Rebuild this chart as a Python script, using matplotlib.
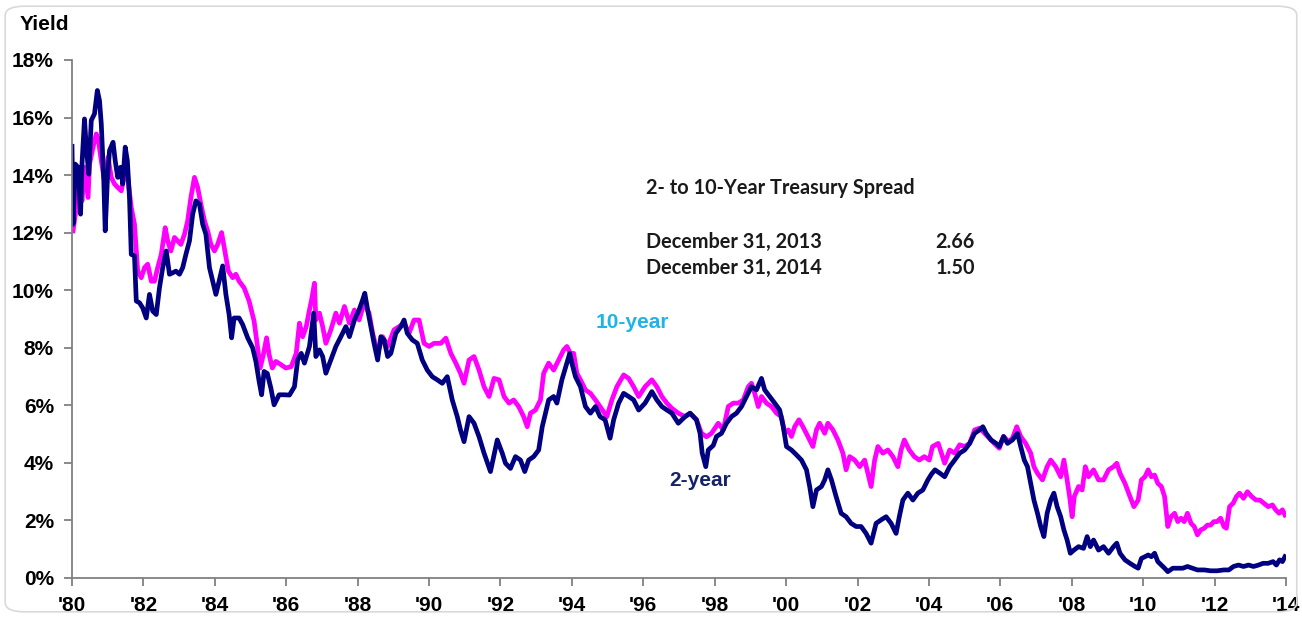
import matplotlib
matplotlib.use('Agg')
import matplotlib.pyplot as plt
from matplotlib.patches import FancyBboxPatch

# 2-year treasury yield (decimal year on the chart axis, percent)
two_year_x = [
    1980.00, 1980.03, 1980.09, 1980.17, 1980.24, 1980.28, 1980.35, 1980.40, 1980.47, 1980.54, 1980.63,
    1980.71, 1980.77, 1980.82, 1980.89, 1980.93, 1980.99, 1981.05, 1981.15, 1981.21, 1981.28,
    1981.36, 1981.42, 1981.49, 1981.55, 1981.61, 1981.66, 1981.75, 1981.80, 1981.89, 1981.98,
    1982.08, 1982.17, 1982.26, 1982.36, 1982.45, 1982.54, 1982.64, 1982.73, 1982.82, 1982.91,
    1983.01, 1983.10, 1983.19, 1983.29, 1983.38, 1983.47, 1983.57, 1983.66, 1983.75, 1983.85,
    1983.94, 1984.03, 1984.12, 1984.22, 1984.31, 1984.40, 1984.47, 1984.54, 1984.68, 1984.78,
    1984.92, 1985.06, 1985.15, 1985.24, 1985.31, 1985.38, 1985.47, 1985.57, 1985.66, 1985.80,
    1985.94, 1986.09, 1986.23, 1986.32, 1986.42, 1986.51, 1986.65, 1986.77, 1986.83, 1986.93,
    1987.02, 1987.11, 1987.25, 1987.39, 1987.53, 1987.67, 1987.77, 1987.91, 1988.04, 1988.14,
    1988.20, 1988.28, 1988.37, 1988.46, 1988.56, 1988.65, 1988.74, 1988.84, 1988.93, 1989.07,
    1989.21, 1989.30, 1989.39, 1989.53, 1989.67, 1989.81, 1989.95, 1990.09, 1990.23, 1990.37,
    1990.51, 1990.65, 1990.79, 1990.88, 1990.98, 1991.12, 1991.26, 1991.40, 1991.54, 1991.72,
    1991.91, 1992.05, 1992.14, 1992.28, 1992.42, 1992.56, 1992.68, 1992.79, 1992.93, 1993.07,
    1993.17, 1993.26, 1993.35, 1993.49, 1993.58, 1993.72, 1993.86, 1993.94, 1994.00, 1994.10,
    1994.24, 1994.38, 1994.52, 1994.66, 1994.79, 1994.93, 1995.07, 1995.17, 1995.31, 1995.45,
    1995.59, 1995.73, 1995.87, 1996.05, 1996.24, 1996.38, 1996.52, 1996.66, 1996.80, 1996.98,
    1997.17, 1997.31, 1997.49, 1997.59, 1997.65, 1997.75, 1997.82, 1997.96, 1998.05, 1998.19,
    1998.33, 1998.47, 1998.61, 1998.75, 1998.89, 1999.03, 1999.17, 1999.31, 1999.40, 1999.54,
    1999.68, 1999.82, 1999.92, 2000.01, 2000.15, 2000.29, 2000.43, 2000.57, 2000.66, 2000.75,
    2000.85, 2000.99, 2001.08, 2001.17, 2001.27, 2001.40, 2001.54, 2001.68, 2001.82, 2001.96,
    2002.10, 2002.24, 2002.38, 2002.52, 2002.66, 2002.80, 2002.94, 2003.08, 2003.17, 2003.27,
    2003.41, 2003.55, 2003.69, 2003.83, 2003.97, 2004.07, 2004.17, 2004.31, 2004.44, 2004.58,
    2004.72, 2004.86, 2005.00, 2005.14, 2005.28, 2005.42, 2005.51, 2005.60, 2005.74, 2005.88,
    2005.97, 2006.09, 2006.20, 2006.34, 2006.48, 2006.57, 2006.67, 2006.76, 2006.85, 2006.94,
    2007.04, 2007.13, 2007.22, 2007.31, 2007.41, 2007.50, 2007.59, 2007.69, 2007.78, 2007.87,
    2007.96, 2008.06, 2008.19, 2008.33, 2008.43, 2008.52, 2008.61, 2008.75, 2008.89, 2009.03,
    2009.17, 2009.26, 2009.35, 2009.49, 2009.63, 2009.77, 2009.86, 2009.95, 2010.05, 2010.14,
    2010.23, 2010.32, 2010.41, 2010.51, 2010.60, 2010.69, 2010.83, 2010.97, 2011.11, 2011.24,
    2011.38, 2011.52, 2011.71, 2011.89, 2012.07, 2012.26, 2012.40, 2012.53, 2012.67, 2012.81,
    2012.95, 2013.09, 2013.23, 2013.36, 2013.50, 2013.64, 2013.73, 2013.82, 2013.90, 2013.97,
]
two_year_y = [
    15.00, 12.29, 14.38, 14.27, 12.64, 14.38, 15.95, 14.97, 14.03, 15.90, 16.13,
    16.94, 16.59, 15.78, 13.80, 12.06, 13.80, 14.85, 15.14, 14.50, 13.92,
    14.27, 13.69, 14.97, 14.50, 13.22, 11.24, 11.19, 9.62, 9.56, 9.38,
    9.03, 9.85, 9.27, 9.15, 10.08, 10.78, 11.36, 10.55, 10.60, 10.66,
    10.55, 10.78, 11.24, 11.71, 12.64, 13.10, 12.99, 12.29, 11.94, 10.78,
    10.31, 9.85, 10.31, 10.84, 9.85, 9.15, 8.34, 9.03, 9.03, 8.80,
    8.34, 7.99, 7.52, 6.83, 6.36, 7.17, 7.10, 6.59, 6.01, 6.36,
    6.36, 6.35, 6.64, 7.57, 7.80, 7.46, 8.04, 9.20, 7.69, 7.92,
    7.69, 7.11, 7.57, 8.04, 8.38, 8.73, 8.38, 8.96, 9.31, 9.66,
    9.89, 9.31, 8.73, 8.15, 7.57, 8.38, 8.27, 7.69, 7.80, 8.50,
    8.73, 8.96, 8.50, 8.27, 8.15, 7.57, 7.22, 6.99, 6.88, 6.76,
    6.99, 6.18, 5.60, 5.14, 4.73, 5.60, 5.37, 4.90, 4.33, 3.69,
    4.79, 4.33, 3.98, 3.80, 4.21, 4.09, 3.69, 4.09, 4.21, 4.44,
    5.25, 5.72, 6.18, 6.30, 6.07, 6.88, 7.46, 7.80, 7.46, 6.99,
    6.64, 5.95, 5.72, 5.95, 5.60, 5.49, 4.85, 5.49, 6.07, 6.41,
    6.30, 6.18, 5.83, 6.07, 6.47, 6.18, 5.95, 5.83, 5.72, 5.37,
    5.60, 5.72, 5.49, 5.02, 4.33, 3.86, 4.44, 4.60, 4.91, 5.02,
    5.37, 5.60, 5.72, 5.95, 6.30, 6.64, 6.53, 6.93, 6.53, 6.30,
    6.07, 5.83, 5.25, 4.56, 4.44, 4.27, 4.09, 3.75, 3.17, 2.47,
    3.05, 3.17, 3.40, 3.75, 3.40, 2.82, 2.24, 2.12, 1.89, 1.78,
    1.78, 1.54, 1.20, 1.89, 2.01, 2.12, 1.89, 1.54, 2.12, 2.70,
    2.94, 2.70, 2.94, 3.05, 3.40, 3.60, 3.75, 3.63, 3.51, 3.86,
    4.09, 4.33, 4.44, 4.67, 5.02, 5.14, 5.25, 5.02, 4.79, 4.67,
    4.56, 4.91, 4.67, 4.79, 5.02, 4.56, 4.09, 3.86, 3.28, 2.70,
    2.24, 1.78, 1.43, 2.24, 2.70, 2.94, 2.47, 2.12, 1.66, 1.31,
    0.85, 0.96, 1.08, 1.02, 1.43, 1.08, 1.31, 0.96, 1.08, 0.85,
    1.08, 1.20, 0.85, 0.62, 0.50, 0.39, 0.33, 0.67, 0.73, 0.79,
    0.73, 0.85, 0.56, 0.44, 0.33, 0.21, 0.33, 0.33, 0.33, 0.39,
    0.33, 0.27, 0.27, 0.24, 0.24, 0.27, 0.27, 0.39, 0.44, 0.39,
    0.44, 0.39, 0.44, 0.50, 0.50, 0.56, 0.44, 0.62, 0.56, 0.73,
]

# 10-year treasury yield
ten_year_x = [
    1980.03, 1980.12, 1980.21, 1980.28, 1980.35, 1980.45, 1980.49, 1980.59, 1980.68, 1980.74,
    1980.82, 1980.91, 1981.01, 1981.10, 1981.19, 1981.28, 1981.38, 1981.47, 1981.56, 1981.66,
    1981.75, 1981.84, 1981.94, 1982.03, 1982.12, 1982.22, 1982.31, 1982.40, 1982.50, 1982.61,
    1982.68, 1982.77, 1982.87, 1982.96, 1983.05, 1983.15, 1983.24, 1983.33, 1983.43, 1983.52,
    1983.61, 1983.71, 1983.80, 1983.89, 1983.99, 1984.08, 1984.19, 1984.28, 1984.38, 1984.50,
    1984.59, 1984.68, 1984.82, 1984.96, 1985.10, 1985.20, 1985.27, 1985.36, 1985.45, 1985.52,
    1985.61, 1985.71, 1985.85, 1985.99, 1986.14, 1986.28, 1986.37, 1986.46, 1986.56, 1986.65,
    1986.71, 1986.79, 1986.83, 1986.93, 1987.02, 1987.11, 1987.25, 1987.39, 1987.49, 1987.63,
    1987.77, 1987.91, 1988.04, 1988.18, 1988.32, 1988.42, 1988.56, 1988.70, 1988.84, 1989.02,
    1989.16, 1989.30, 1989.44, 1989.58, 1989.72, 1989.86, 1990.00, 1990.14, 1990.33, 1990.47,
    1990.61, 1990.75, 1990.88, 1990.98, 1991.12, 1991.26, 1991.40, 1991.54, 1991.68, 1991.82,
    1991.96, 1992.10, 1992.24, 1992.37, 1992.51, 1992.65, 1992.75, 1992.84, 1992.98, 1993.12,
    1993.21, 1993.35, 1993.49, 1993.63, 1993.77, 1993.86, 1993.96, 1994.05, 1994.14, 1994.24,
    1994.38, 1994.52, 1994.66, 1994.79, 1994.98, 1995.12, 1995.26, 1995.45, 1995.59, 1995.73,
    1995.87, 1996.05, 1996.24, 1996.38, 1996.52, 1996.66, 1996.80, 1996.98, 1997.17, 1997.31,
    1997.49, 1997.63, 1997.77, 1997.91, 1998.10, 1998.24, 1998.38, 1998.52, 1998.66, 1998.80,
    1998.94, 1999.03, 1999.12, 1999.22, 1999.31, 1999.45, 1999.59, 1999.73, 1999.87, 1999.96,
    2000.06, 2000.15, 2000.24, 2000.36, 2000.47, 2000.61, 2000.75, 2000.85, 2000.94, 2001.08,
    2001.17, 2001.31, 2001.45, 2001.59, 2001.68, 2001.78, 2001.92, 2002.06, 2002.20, 2002.29,
    2002.38, 2002.48, 2002.57, 2002.71, 2002.85, 2002.99, 2003.13, 2003.22, 2003.31, 2003.45,
    2003.59, 2003.73, 2003.87, 2004.01, 2004.10, 2004.26, 2004.35, 2004.44, 2004.58, 2004.72,
    2004.86, 2005.00, 2005.14, 2005.28, 2005.42, 2005.56, 2005.69, 2005.83, 2005.97, 2006.09,
    2006.23, 2006.34, 2006.46, 2006.57, 2006.71, 2006.85, 2006.94, 2007.04, 2007.18, 2007.31,
    2007.41, 2007.55, 2007.69, 2007.78, 2007.87, 2007.94, 2008.01, 2008.07, 2008.19, 2008.29,
    2008.38, 2008.47, 2008.61, 2008.75, 2008.89, 2009.03, 2009.17, 2009.26, 2009.35, 2009.49,
    2009.63, 2009.74, 2009.86, 2009.95, 2010.05, 2010.14, 2010.23, 2010.32, 2010.41, 2010.51,
    2010.60, 2010.69, 2010.78, 2010.88, 2010.97, 2011.06, 2011.15, 2011.24, 2011.34, 2011.43,
    2011.52, 2011.61, 2011.71, 2011.80, 2011.89, 2011.98, 2012.07, 2012.17, 2012.26, 2012.33,
    2012.42, 2012.52, 2012.61, 2012.70, 2012.81, 2012.92, 2013.04, 2013.16, 2013.27, 2013.38,
    2013.50, 2013.62, 2013.71, 2013.81, 2013.90, 2013.97,
]
ten_year_y = [
    12.06, 12.87, 13.80, 13.10, 14.27, 13.22, 14.38, 14.97, 15.43, 15.20,
    14.50, 13.80, 14.62, 13.92, 13.69, 13.57, 13.45, 14.03, 13.92, 12.87,
    12.29, 10.66, 10.43, 10.78, 10.90, 10.31, 10.31, 10.78, 11.24, 12.17,
    11.71, 11.36, 11.83, 11.71, 11.59, 11.94, 12.41, 13.22, 13.92, 13.57,
    12.99, 12.41, 12.06, 11.59, 11.36, 11.59, 12.00, 11.36, 10.66, 10.43,
    10.55, 10.31, 10.08, 9.62, 8.92, 7.99, 7.29, 7.76, 8.34, 7.76,
    7.29, 7.52, 7.41, 7.29, 7.34, 7.80, 8.85, 8.38, 8.73, 9.31,
    9.66, 10.24, 8.96, 9.20, 8.73, 8.15, 8.62, 9.20, 8.85, 9.43,
    8.85, 9.31, 8.96, 9.54, 9.20, 8.50, 7.80, 8.38, 8.04, 8.62,
    8.73, 8.85, 8.50, 8.96, 8.96, 8.15, 8.04, 8.15, 8.15, 8.33,
    7.80, 7.46, 7.11, 6.76, 7.57, 7.69, 7.22, 6.64, 6.30, 6.93,
    6.88, 6.30, 6.07, 6.18, 5.95, 5.60, 5.25, 5.72, 5.83, 6.18,
    7.11, 7.46, 7.22, 7.57, 7.92, 8.04, 7.80, 7.80, 7.11, 6.88,
    6.53, 6.41, 6.18, 5.95, 5.60, 6.18, 6.64, 7.05, 6.93, 6.64,
    6.30, 6.64, 6.88, 6.64, 6.30, 6.07, 5.89, 5.72, 5.60, 5.72,
    5.49, 5.02, 4.90, 5.02, 5.37, 5.14, 5.95, 6.07, 6.07, 6.18,
    6.64, 6.76, 6.41, 5.95, 6.30, 6.07, 5.95, 5.72, 5.60, 5.02,
    5.14, 4.91, 5.25, 5.49, 5.25, 4.91, 4.56, 5.14, 5.37, 5.02,
    5.37, 5.14, 4.79, 4.33, 3.75, 4.21, 4.09, 3.86, 4.09, 3.63,
    3.17, 4.09, 4.56, 4.33, 4.44, 4.21, 3.86, 4.44, 4.79, 4.44,
    4.21, 4.09, 4.21, 4.09, 4.56, 4.67, 4.33, 3.98, 4.44, 4.33,
    4.62, 4.56, 4.67, 5.14, 5.20, 5.02, 4.85, 4.67, 4.50, 4.91,
    4.73, 4.85, 5.25, 4.91, 4.67, 4.33, 3.86, 3.63, 3.40, 3.86,
    4.09, 3.86, 3.51, 4.09, 3.40, 2.82, 2.12, 2.82, 3.17, 3.05,
    3.86, 3.51, 3.75, 3.40, 3.40, 3.75, 3.86, 3.98, 3.63, 3.28,
    2.82, 2.47, 2.70, 3.40, 3.51, 3.75, 3.51, 3.57, 3.28, 3.17,
    2.82, 1.78, 2.12, 2.24, 1.95, 2.07, 1.95, 2.24, 1.89, 1.78,
    1.49, 1.66, 1.72, 1.83, 1.83, 1.95, 1.95, 2.07, 1.78, 1.72,
    2.47, 2.59, 2.82, 2.94, 2.76, 2.99, 2.82, 2.70, 2.70, 2.59,
    2.47, 2.53, 2.36, 2.24, 2.36, 2.18,
]

x_ticks = list(range(1980, 2015, 2))
x_tick_labels = ["'" + str(y)[2:] for y in x_ticks]
y_ticks = list(range(0, 19, 2))
y_tick_labels = [f'{v}%' for v in y_ticks]

spread_title = '2- to 10-Year Treasury Spread'
spread_dates = ['December 31, 2013', 'December 31, 2014']
spread_values = ['2.66', '1.50']

W, H = 1302, 618
fig = plt.figure(figsize=(W / 100, H / 100), dpi=100)
fig.patch.set_facecolor('white')

# light rounded frame around the whole picture
frame = FancyBboxPatch((0.004, 0.01), 0.992, 0.98, boxstyle='round,pad=0,rounding_size=0.015',
                       transform=fig.transFigure, facecolor='none', edgecolor='#d9d9d9',
                       linewidth=1.2)
fig.patches.append(frame)

ax = fig.add_axes([72 / W, 40.3 / H, 1214 / W, 517.7 / H])

ax.plot(ten_year_x, ten_year_y, color='#FF00FF', linewidth=3.4, solid_joinstyle='round')
ax.plot(two_year_x, two_year_y, color='#000080', linewidth=3.4, solid_joinstyle='round')

ax.set_xlim(1980, 2014)
ax.set_ylim(0, 18)
ax.set_xticks(x_ticks)
ax.set_xticklabels(x_tick_labels)
ax.set_yticks(y_ticks)
ax.set_yticklabels(y_tick_labels)

for side in ['top', 'right']:
    ax.spines[side].set_visible(False)
for side in ['left', 'bottom']:
    ax.spines[side].set_color('#808080')
    ax.spines[side].set_linewidth(1.3)

ax.tick_params(axis='both', direction='out', length=6, width=1.3, color='#808080',
               labelsize=15, pad=7)
for lbl in ax.get_xticklabels() + ax.get_yticklabels():
    lbl.set_fontweight('bold')
    lbl.set_family('Liberation Sans')

# labels
fig.text(20 / W, 1 - 24 / H, 'Yield', fontsize=15, fontweight='bold', family='Liberation Sans',
         ha='left', va='center')
fig.text(632 / W, 1 - 322 / H, '10-year', fontsize=15, fontweight='bold', family='Liberation Sans',
         color='#1EB4E8', ha='center', va='center')
fig.text(700 / W, 1 - 481 / H, '2-year', fontsize=15, fontweight='bold', family='Liberation Sans',
         color='#14226B', ha='center', va='center')

# spread table
table_font = dict(fontsize=14.3, family='Lato', fontweight='bold', color='#1a1a1a')
fig.text(646 / W, 1 - 188 / H, spread_title, ha='left', va='center', **table_font)
for i, (d, v) in enumerate(zip(spread_dates, spread_values)):
    yy = 1 - (242 + 26 * i) / H
    fig.text(646 / W, yy, d, ha='left', va='center', **table_font)
    fig.text(975 / W, yy, v, ha='right', va='center', **table_font)

fig.savefig('out.png', dpi=100)
